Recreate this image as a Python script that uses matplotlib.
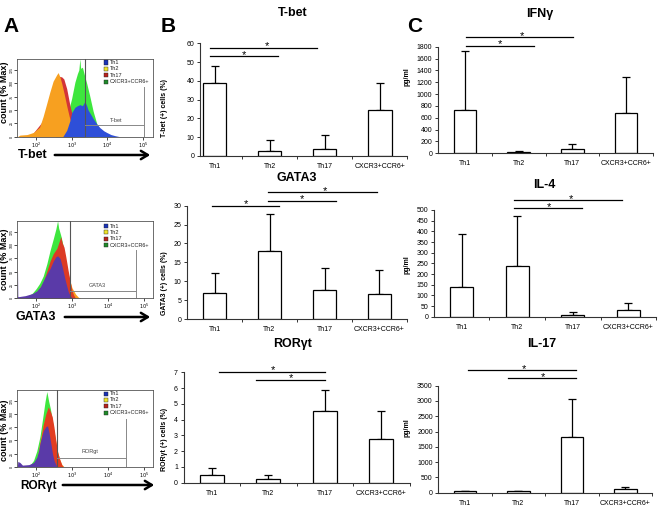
import numpy as np
import matplotlib.pyplot as plt
from matplotlib.patches import Rectangle, FancyArrowPatch
from matplotlib.ticker import NullFormatter

plt.rcParams['font.family'] = ['Liberation Sans', 'DejaVu Sans']

W, H = 658, 507

# ---------------- data ----------------
groups = ['Th1', 'Th2', 'Th17', 'CXCR3+CCR6+']

tbet_mean = [38.7, 2.8, 3.5, 24.5]
tbet_sd = [9.0, 5.7, 7.7, 14.2]
gata3_mean = [7.0, 18.1, 7.6, 6.7]
gata3_sd = [5.1, 9.7, 5.8, 6.4]
ror_mean = [0.48, 0.24, 4.55, 2.8]
ror_sd = [0.47, 0.23, 1.31, 1.75]

ifng_mean = [735, 25, 67, 675]
ifng_sd = [990, 20, 83, 615]
il4_mean = [140, 236, 7, 30]
il4_sd = [246, 236, 15, 34]
il17_mean = [40, 40, 1830, 105]
il17_sd = [12, 15, 1250, 70]

# significance bars: (from, to, height, star position) in category units
tbet_sig = [(-0.09, 1.85, 57.7, 0.95), (-0.09, 1.15, 53.2, 0.53)]
gata3_sig = [(-0.05, 1.17, 30.0, 0.57), (0.98, 2.95, 33.5, 2.0), (0.98, 2.2, 31.3, 1.59)]
ror_sig = [(0.12, 2.0, 7.05, 1.09), (0.79, 2.0, 6.53, 1.4)]
ifng_sig = [(0.02, 2.02, 1959, 1.06), (0.02, 1.29, 1818, 0.65)]
il4_sig = [(0.95, 2.89, 547, 1.97), (0.95, 2.17, 508, 1.57)]
il17_sig = [(0.06, 2.08, 4016, 1.11), (0.8, 2.08, 3752, 1.45)]

# flow histograms: log10(intensity), height
tbet_th2 = ([1.48, 1.55, 1.75, 1.93, 2.10, 2.20, 2.30, 2.39, 2.48, 2.58, 2.62, 2.67, 2.72, 2.79, 2.86, 2.93, 3.00, 3.07, 3.14, 3.25, 3.35],
            [0, 3, 4, 8, 18, 38, 62, 84, 104, 116, 120, 112, 100, 80, 58, 38, 22, 11, 5, 1, 0])
tbet_th17 = ([1.60, 1.90, 2.20, 2.40, 2.55, 2.65, 2.72, 2.78, 2.86, 2.95, 3.04, 3.14, 3.23, 3.33, 3.40],
             [0, 5, 30, 75, 105, 113, 112, 108, 90, 59, 34, 15, 6, 1, 0])
tbet_cx = ([2.55, 2.70, 2.80, 2.90, 3.00, 3.09, 3.16, 3.20, 3.23, 3.25, 3.30, 3.37, 3.42, 3.50, 3.60, 3.70, 3.79, 3.93, 4.07],
           [0, 5, 20, 45, 72, 102, 118, 125, 146, 128, 130, 112, 100, 78, 48, 25, 12, 4, 0])
tbet_th1 = ([2.75, 2.86, 2.95, 3.00, 3.09, 3.16, 3.23, 3.30, 3.37, 3.42, 3.46, 3.55, 3.60, 3.70, 3.79, 3.90, 3.98, 4.10, 4.21, 4.35],
            [0, 12, 30, 45, 55, 58, 60, 58, 66, 58, 50, 40, 34, 24, 17, 11, 8, 4, 2, 0])

gata3_cx = ([1.70, 1.90, 2.00, 2.10, 2.20, 2.30, 2.39, 2.48, 2.55, 2.60, 2.63, 2.69, 2.75, 2.80, 2.86, 2.95, 3.00, 3.05],
            [0, 10, 18, 28, 42, 65, 90, 112, 130, 146, 132, 118, 100, 80, 55, 25, 10, 0])
gata3_th2 = ([1.90, 2.20, 2.40, 2.55, 2.65, 2.72, 2.80, 2.86, 2.95, 3.00, 3.10, 3.18, 3.25],
             [0, 30, 65, 85, 100, 104, 80, 56, 32, 20, 8, 2, 0])
gata3_th17 = ([2.00, 2.20, 2.39, 2.48, 2.58, 2.65, 2.69, 2.73, 2.78, 2.83, 2.90, 2.95, 3.00, 3.05, 3.10],
              [0, 30, 70, 84, 94, 108, 116, 104, 96, 78, 50, 32, 15, 6, 0])
gata3_th1 = ([1.478, 1.48, 1.49, 1.50, 1.70, 1.90, 2.02, 2.12, 2.20, 2.30, 2.39, 2.48, 2.55, 2.60, 2.67, 2.72, 2.76, 2.81, 2.86, 2.90, 2.95, 3.00, 3.05],
             [0, 62, 4, 3, 5, 9, 14, 22, 33, 46, 56, 70, 78, 80, 75, 62, 50, 35, 22, 12, 5, 1, 0])

ror_cx = ([1.80, 1.93, 2.02, 2.11, 2.20, 2.25, 2.30, 2.35, 2.40, 2.46, 2.50, 2.55, 2.60, 2.65, 2.70],
          [0, 12, 30, 58, 100, 124, 143, 125, 110, 85, 65, 40, 18, 5, 0])
ror_th2 = ([2.00, 2.10, 2.20, 2.30, 2.38, 2.45, 2.52, 2.58, 2.65, 2.72, 2.78],
           [0, 45, 80, 100, 98, 85, 60, 35, 15, 4, 0])
ror_th17 = ([2.00, 2.10, 2.20, 2.27, 2.34, 2.40, 2.45, 2.50, 2.55, 2.60, 2.67, 2.72, 2.76],
            [0, 40, 80, 100, 114, 105, 95, 75, 50, 28, 12, 3, 0])
ror_th1 = ([1.478, 1.49, 1.55, 1.62, 1.80, 1.93, 2.02, 2.07, 2.11, 2.16, 2.20, 2.27, 2.32, 2.36, 2.41, 2.46, 2.51, 2.56, 2.60],
           [0, 10, 8, 3, 4, 8, 18, 30, 45, 58, 68, 76, 78, 65, 45, 24, 10, 3, 0])

# gates: left, right, level, top of right end, label x, label y, label
tbet_gate = (3.36, 5.02, 21, 93, 4.26, 31, 'T-bet')
gata3_gate = (2.95, 4.80, 14, 91, 3.72, 24, 'GATA3')
ror_gate = (2.58, 4.52, 17, 91, 3.49, 29, 'RORgt')

# ---------------- figure ----------------
fig = plt.figure(figsize=(W / 100, H / 100), dpi=100)


def rect(x0, y0, x1, y1):
    return [x0 / W, 1 - y1 / H, (x1 - x0) / W, (y1 - y0) / H]


def ftext(x, y, s, **kw):
    fig.text(x / W, 1 - y / H, s, **kw)


def bar_panel(box, xlim, ylim, yticks, means, sds, sig):
    ax = fig.add_axes(rect(*box))
    x = np.arange(len(groups))
    ax.errorbar(x, means, yerr=[np.zeros(len(x)), sds], fmt='none', ecolor='black',
                elinewidth=0.9, capsize=3.2, capthick=0.9, zorder=1)
    ax.bar(x, means, width=0.42, color='white', edgecolor='black', linewidth=0.9, zorder=2)
    ax.set_xlim(*xlim)
    ax.set_ylim(*ylim)
    ax.set_yticks(yticks)
    ax.set_xticks([0.5, 1.5, 2.5, 3.5])
    ax.set_xticklabels([])
    ax.set_xticks(x, minor=True)
    ax.set_xticklabels(groups, minor=True)
    ax.tick_params(axis='x', which='minor', length=0, pad=5, labelsize=5)
    ax.tick_params(axis='x', which='major', length=2.5, width=0.7, color='#333')
    ax.tick_params(axis='y', length=2.5, width=0.7, color='#333', labelsize=5, pad=1.5)
    for s in ['top', 'right']:
        ax.spines[s].set_visible(False)
    for s in ['left', 'bottom']:
        ax.spines[s].set_color('#333')
        ax.spines[s].set_linewidth(0.8)
    for x0, x1, y, sx in sig:
        ax.plot([x0, x1], [y, y], color='black', lw=0.9, clip_on=False)
        ax.annotate('*', (sx, y), xytext=(0, -1.2), textcoords='offset points',
                    ha='center', va='baseline', fontsize=8, annotation_clip=False)
    return ax


def hist_panel(box, curves, gate, legend_y):
    ax = fig.add_axes(rect(*box))
    for (lx, h), c in curves:
        ax.fill_between(10 ** np.array(lx), h, color=c, lw=0)
    ax.set_xscale('log')
    ax.set_xlim(10 ** 1.476, 10 ** 5.27)
    ax.set_ylim(0, 146)
    ax.set_xticks([1e2, 1e3, 1e4, 1e5])
    ax.set_xticklabels([r'$10^2$', r'$10^3$', r'$10^4$', r'$10^5$'], fontsize=3.5)
    ax.xaxis.set_minor_formatter(NullFormatter())
    ax.set_yticks([0, 25, 50, 75, 100, 125])
    ax.set_yticklabels(['0', '25', '50', '75', '100', '125'], rotation=90, va='center', fontsize=2.6)
    ax.tick_params(which='major', length=2, width=0.5, pad=0.8)
    ax.tick_params(which='minor', length=1.2, width=0.4)
    for s in ax.spines.values():
        s.set_linewidth(0.6)
        s.set_color('#555')
    gl, gr, lev, rtop, lx, ly, lab = gate
    ax.plot([10 ** gl] * 2, [0, 146], color='#555', lw=0.8)
    ax.plot([10 ** gl, 10 ** gr], [lev, lev], color='#888', lw=0.7)
    ax.plot([10 ** gr] * 2, [0, rtop], color='#888', lw=0.7)
    ax.text(10 ** lx, ly, lab, fontsize=4, color='#444', ha='center', va='center')
    cols = ['#1b33b8', '#efe42a', '#b8231f', '#1f8a2a']
    for i, (g, c) in enumerate(zip(groups, cols)):
        y = legend_y + 6.4 * i
        fig.add_artist(Rectangle((104 / W, 1 - (y + 2) / H), 4 / W, 4 / H, facecolor=c,
                                 edgecolor='#222', lw=0.3, transform=fig.transFigure))
        ftext(110, y, g, fontsize=4, va='center', color='#222')
    return ax


def arrow(x0, x1, y):
    fig.add_artist(FancyArrowPatch(
        (x0 / W, 1 - y / H), (x1 / W, 1 - y / H), transform=fig.transFigure,
        arrowstyle='->,head_length=5,head_width=3', lw=1.8, color='black'))


orange, red, green, blue, purple = '#f7a020', '#d33438', '#3ee63e', '#2e4fd8', '#5a3aa8'

# panel A
hist_panel((17.3, 58.7, 152.7, 136.7),
           [(tbet_cx, green), (tbet_th17, red), (tbet_th2, orange), (tbet_th1, blue)],
           tbet_gate, 62.5)
hist_panel((17.3, 220.7, 153.3, 298.3),
           [(gata3_cx, green), (gata3_th2, orange), (gata3_th17, '#dc3a24'), (gata3_th1, purple)],
           gata3_gate, 226)
hist_panel((17.3, 390, 153.3, 466.7),
           [(ror_cx, green), (ror_th2, orange), (ror_th17, '#e23c20'), (ror_th1, purple)],
           ror_gate, 393.5)

for cy in [92, 259, 430]:
    ftext(4.5, cy, 'count (% Max)', rotation=90, ha='center', va='center', fontsize=6.5, fontweight='bold')
ftext(18, 155, 'T-bet', fontsize=9, fontweight='bold', va='center')
arrow(52, 153, 155)
ftext(15, 317, 'GATA3', fontsize=9, fontweight='bold', va='center')
arrow(62, 153, 317)
ftext(20.5, 485.5, 'RORγt', fontsize=8.5, fontweight='bold', va='center')
arrow(60, 157, 485)

# panel B
bar_panel((200, 43.3, 407.5, 156), (-0.27, 3.5), (0, 60), range(0, 61, 10), tbet_mean, tbet_sd, tbet_sig)
bar_panel((187, 205.7, 407, 319), (-0.5, 3.5), (0, 30), range(0, 31, 5), gata3_mean, gata3_sd, gata3_sig)
bar_panel((183.5, 372.3, 409.5, 482.7), (-0.5, 3.5), (0, 7), range(0, 8), ror_mean, ror_sd, ror_sig)

# panel C
bar_panel((438, 46.7, 653, 153.3), (-0.5, 3.5), (0, 1800), range(0, 1801, 200), ifng_mean, ifng_sd, ifng_sig)
bar_panel((434, 210, 656, 316.7), (-0.5, 3.5), (0, 500), range(0, 501, 50), il4_mean, il4_sd, il4_sig)
bar_panel((438.3, 385.7, 652, 492.7), (-0.5, 3.5), (0, 3500), range(0, 3501, 500), il17_mean, il17_sd, il17_sig)

# titles and labels
for x, y, s in [(293, 13, 'T-bet'), (297, 178, 'GATA3'), (293, 344, 'RORγt'),
                (540, 14, 'IFNγ'), (544, 185, 'IL-4'), (542, 344, 'IL-17')]:
    ftext(x, y, s, ha='center', va='center', fontsize=9, fontweight='bold')

ftext(165, 108, 'T-bet (+) cells (%)', rotation=90, ha='center', va='center', fontsize=5, fontweight='bold')
ftext(165, 283, 'GATA3 (+) cells (%)', rotation=90, ha='center', va='center', fontsize=5, fontweight='bold')
ftext(164, 439, 'RORγt (+) cells (%)', rotation=90, ha='center', va='center', fontsize=5, fontweight='bold')
for y in [77, 265, 428]:
    ftext(407, y, 'pg/ml', rotation=90, ha='center', va='center', fontsize=5, fontweight='bold')

for x, s in [(11, 'A'), (168, 'B'), (415, 'C')]:
    ftext(x, 27, s, ha='center', va='center', fontsize=15, fontweight='bold')

fig.savefig('out.png', dpi=100)
